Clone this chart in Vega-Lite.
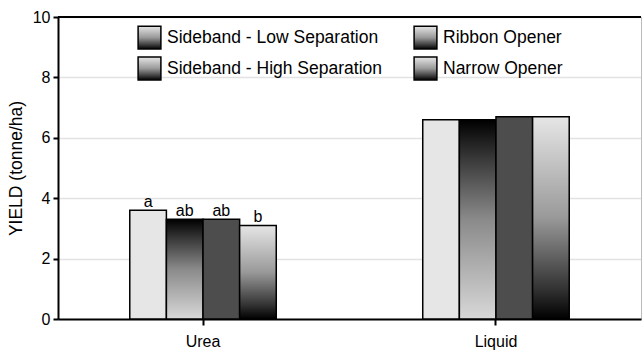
{
  "$schema": "https://vega.github.io/schema/vega-lite/v6.json",
  "width": 583,
  "height": 302,
  "autosize": "none",
  "padding": {"left": 58, "top": 17, "right": 3, "bottom": 34},
  "config": {
    "font": "Liberation Sans",
    "view": {"stroke": "#bbbbbb", "strokeWidth": 1},
    "axis": {
      "domainColor": "black", "domainWidth": 2,
      "tickColor": "black", "tickWidth": 2,
      "labelFontSize": 16, "labelColor": "black",
      "titleFontSize": 17.5, "titleFontWeight": "normal", "titleColor": "black"
    }
  },
  "data": {
    "values": [
      {"source": "Urea", "treatment": "Sideband - Low Separation", "yield": 3.6, "letter": "a"},
      {"source": "Urea", "treatment": "Sideband - High Separation", "yield": 3.3, "letter": "ab"},
      {"source": "Urea", "treatment": "Ribbon Opener", "yield": 3.3, "letter": "ab"},
      {"source": "Urea", "treatment": "Narrow Opener", "yield": 3.1, "letter": "b"},
      {"source": "Liquid", "treatment": "Sideband - Low Separation", "yield": 6.6, "letter": ""},
      {"source": "Liquid", "treatment": "Sideband - High Separation", "yield": 6.6, "letter": ""},
      {"source": "Liquid", "treatment": "Ribbon Opener", "yield": 6.7, "letter": ""},
      {"source": "Liquid", "treatment": "Narrow Opener", "yield": 6.7, "letter": ""}
    ]
  },
  "layer": [
    {
      "mark": {"type": "bar", "strokeWidth": 1.5, "fillOpacity": 1, "strokeOpacity": 1},
      "encoding": {
        "x": {"field": "source", "type": "nominal", "sort": ["Urea", "Liquid"],
              "scale": {"paddingInner": 0.5, "paddingOuter": 0.245},
              "axis": {"title": null, "labelAngle": 0, "tickSize": 6, "labelPadding": 8}},
        "xOffset": {"field": "treatment", "type": "nominal",
                    "scale": {"domain": ["Sideband - Low Separation", "Sideband - High Separation", "Ribbon Opener", "Narrow Opener"]}},
        "y": {"field": "yield", "type": "quantitative",
              "scale": {"domain": [0, 10]},
              "axis": {"title": "YIELD (tonne/ha)", "values": [0, 2, 4, 6, 8, 10], "tickSize": 5,
                       "labelPadding": 3, "titlePadding": 7,
                       "gridColor": "#c4c4c4", "gridDash": [1, 1], "gridWidth": 1.5}},
        "fill": {
          "condition": [
            {"test": "datum.treatment === 'Sideband - Low Separation'", "value": "#e6e6e6"},
            {"test": "datum.treatment === 'Ribbon Opener'", "value": "#4d4d4d"},
            {"test": "datum.treatment === 'Sideband - High Separation'",
             "value": {"gradient": "linear", "x1": 0, "y1": 0, "x2": 0, "y2": 1,
               "stops": [{"offset": 0, "color": "#000000"}, {"offset": 0.2, "color": "#3a3a3a"}, {"offset": 0.5, "color": "#8a8a8a"}, {"offset": 1, "color": "#d8d8d8"}]}}
          ],
          "value": {"gradient": "linear", "x1": 0, "y1": 0, "x2": 0, "y2": 1,
            "stops": [{"offset": 0, "color": "#e6e6e6"}, {"offset": 0.5, "color": "#999999"}, {"offset": 0.85, "color": "#333333"}, {"offset": 1, "color": "#000000"}]}
        },
        "stroke": {
          "field": "treatment", "type": "nominal",
          "scale": {
            "domain": ["Sideband - Low Separation", "Sideband - High Separation", "Ribbon Opener", "Narrow Opener"],
            "range": ["#000000", "#000000", "#000000", "#000000"]
          },
          "legend": {
            "title": null, "orient": "none", "legendX": 79, "legendY": 8,
            "columns": 2, "columnPadding": 28, "rowPadding": 2,
            "symbolType": "square", "symbolSize": 520,
            "labelFontSize": 17.5, "labelColor": "black", "labelOffset": 5, "labelLimit": 300,
            "encode": {
              "symbols": {
                "strokeWidth": {"value": 1.5},
                "opacity": {"value": 1},
                "fillOpacity": {"value": 1},
                "fill": {"value": {"expr": "(datum.value === 'Sideband - Low Separation' || datum.label === 'Sideband - Low Separation') ? '#e6e6e6' : (datum.value === 'Ribbon Opener' || datum.label === 'Ribbon Opener') ? '#4d4d4d' : (datum.value === 'Sideband - High Separation' || datum.label === 'Sideband - High Separation') ? {gradient: 'linear', x1: 0, y1: 0, x2: 0, y2: 1, stops: [{offset: 0, color: '#000000'}, {offset: 0.2, color: '#3a3a3a'}, {offset: 0.5, color: '#8a8a8a'}, {offset: 1, color: '#d8d8d8'}]} : {gradient: 'linear', x1: 0, y1: 0, x2: 0, y2: 1, stops: [{offset: 0, color: '#e6e6e6'}, {offset: 0.5, color: '#999999'}, {offset: 0.85, color: '#333333'}, {offset: 1, color: '#000000'}]}"}}
              }
            }
          }
        }
      }
    },
    {
      "mark": {"type": "text", "dy": -8, "fontSize": 16, "color": "black"},
      "encoding": {
        "x": {"field": "source", "type": "nominal", "sort": ["Urea", "Liquid"]},
        "xOffset": {"field": "treatment", "type": "nominal"},
        "y": {"field": "yield", "type": "quantitative"},
        "text": {"field": "letter"}
      }
    },
    {
      "mark": {"type": "rule", "stroke": "black", "strokeWidth": 2},
      "encoding": {"y": {"datum": 10}}
    }
  ]
}
